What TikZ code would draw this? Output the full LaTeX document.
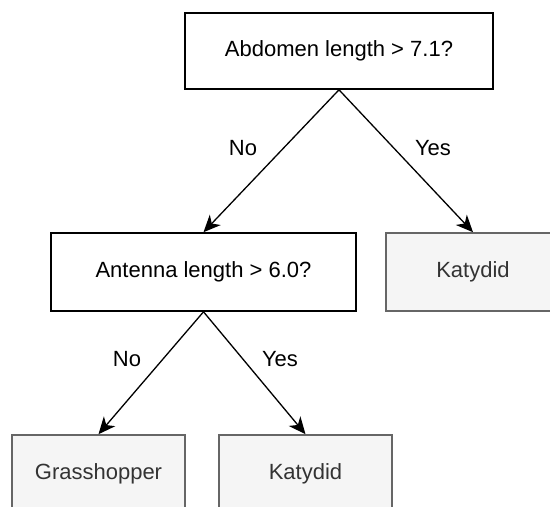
\documentclass[tikz,border=0pt]{standalone}
\usepackage{fontspec}
\setmainfont{Liberation Sans}
\usetikzlibrary{arrows.meta}
\definecolor{leaffill}{HTML}{F5F5F5}
\definecolor{leafline}{HTML}{666666}
\definecolor{leaftext}{HTML}{333333}
\tikzset{
  txt/.style={font=\fontsize{22}{26}\selectfont},
  question/.style={txt, draw=black, line width=1.6pt, fill=white,
    rectangle, inner sep=0pt, text=black},
  leaf/.style={txt, draw=leafline, line width=1.6pt, fill=leaffill,
    rectangle, inner sep=0pt, text=leaftext},
  branch/.style={draw=black, line width=1.3pt,
    -{Stealth[length=17pt,width=15pt,inset=5pt]}, shorten >=0pt},
  answer/.style={txt, text=black}
}
\begin{document}
\begin{tikzpicture}[x=1pt, y=-1pt]
  \useasboundingbox (0,0) rectangle (550,507);
  \begin{scope}
    \clip (0,0) rectangle (550,507);
    % decision nodes
    \node[question, minimum width=308pt, minimum height=76pt] (root) at (339,51) {Abdomen length > 7.1?};
    \node[question, minimum width=305pt, minimum height=78pt] (ant) at (203.5,272) {Antenna length > 6.0?};
    % leaves
    \node[leaf, minimum width=174pt, minimum height=78pt] (katA) at (473,272) {Katydid};
    \node[leaf, minimum width=173pt, minimum height=78pt] (grass) at (98.5,474) {Grasshopper};
    \node[leaf, minimum width=173pt, minimum height=78pt] (katB) at (305.5,474) {Katydid};
    % branches
    \draw[branch] (root.south) -- (ant.north);
    \draw[branch] (root.south) -- (katA.north);
    \draw[branch] (ant.south) -- (grass.north);
    \draw[branch] (ant.south) -- (katB.north);
    % branch labels
    \node[answer] (no1) at (243,148) {No};
    \node[answer] (yes1) at (433,148) {Yes};
    \node[answer] (no2) at (127,359) {No};
    \node[answer] (yes2) at (280,359) {Yes};
  \end{scope}
\end{tikzpicture}
\end{document}
